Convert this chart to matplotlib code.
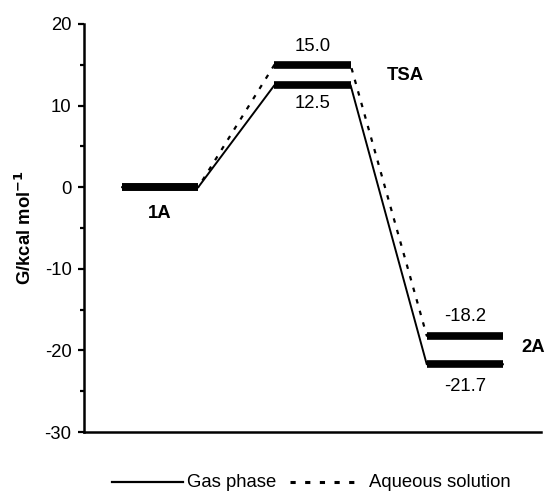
import matplotlib
matplotlib.use("Agg")
import matplotlib.pyplot as plt
from matplotlib.ticker import MultipleLocator
from matplotlib.lines import Line2D

plt.rcParams['font.family'] = ['Liberation Sans', 'DejaVu Sans']
plt.rcParams['axes.unicode_minus'] = False

species = ["1A", "TSA", "2A"]
positions = [1, 2, 3]
gas_energy = [0.0, 12.5, -21.7]
aq_energy = [0.0, 15.0, -18.2]
legend_labels = ["Gas phase", "Aqueous solution"]
half = 0.25
FS = 13.3
DASH = (0, (2.0, 3.4))

W, H = 548, 494
fig = plt.figure(figsize=(W / 100, H / 100), dpi=100)
ax = fig.add_axes([84 / W, 1 - 432 / H, 457 / W, 408 / H])

def path(energies):
    xs, ys = [], []
    for p, e in zip(positions, energies):
        xs += [p - half, p + half]
        ys += [e, e]
    return xs, ys

xa, ya = path(aq_energy)
xg, yg = path(gas_energy)
ax.plot(xa, ya, color='black', lw=1.6, ls=DASH, zorder=2)
ax.plot(xg, yg, color='black', lw=1.4, ls='-', zorder=3)

for energies in (gas_energy, aq_energy):
    for p, e in zip(positions, energies):
        ax.plot([p - half, p + half], [e, e], color='black', lw=5.5,
                solid_capstyle='butt', zorder=4)

# value labels
ax.text(2, aq_energy[1] + 2.3, f"{aq_energy[1]:.1f}", ha='center', va='center', fontsize=FS)
ax.text(2, gas_energy[1] - 2.3, f"{gas_energy[1]:.1f}", ha='center', va='center', fontsize=FS)
ax.text(3, aq_energy[2] + 2.4, f"{aq_energy[2]:.1f}", ha='center', va='center', fontsize=FS)
ax.text(3, gas_energy[2] - 2.7, f"{gas_energy[2]:.1f}", ha='center', va='center', fontsize=FS)

# species labels
ax.text(1, -3.2, species[0], ha='center', va='center', fontsize=FS, fontweight='bold')
ax.text(2.61, 13.7, species[1], ha='center', va='center', fontsize=FS, fontweight='bold')
ax.text(3.45, -19.7, species[2], ha='center', va='center', fontsize=FS, fontweight='bold',
        clip_on=False)

ax.set_xlim(0.5, 3.5)
ax.set_ylim(-30, 20)
ax.yaxis.set_major_locator(MultipleLocator(10))
ax.yaxis.set_minor_locator(MultipleLocator(5))
ax.tick_params(axis='y', which='major', direction='out', length=4, width=1.6, labelsize=FS, pad=5)
ax.tick_params(axis='y', which='minor', direction='out', length=3, width=1.6)
ax.set_xticks([])
for s in ['top', 'right']:
    ax.spines[s].set_visible(False)
ax.spines['left'].set_linewidth(1.8)
ax.spines['bottom'].set_linewidth(1.8)

ax.set_ylabel("G/kcal mol$^{\\mathbf{-1}}$", fontsize=FS, fontweight='bold')
ax.yaxis.set_label_coords(-0.108, 0.5)

# manual legend (figure pixel coordinates)
ly = 1 - 482 / H
fig.add_artist(Line2D([112 / W, 183 / W], [ly, ly], color='black', lw=1.6))
fig.text(187 / W, ly, legend_labels[0], ha='left', va='center', fontsize=FS)
fig.add_artist(Line2D([290 / W, 360 / W], [ly, ly], color='black', lw=2.2,
                      ls=(0, (1.7, 3.1))))
fig.text(369 / W, ly, legend_labels[1], ha='left', va='center', fontsize=FS)

fig.savefig("out.png", dpi=100)
